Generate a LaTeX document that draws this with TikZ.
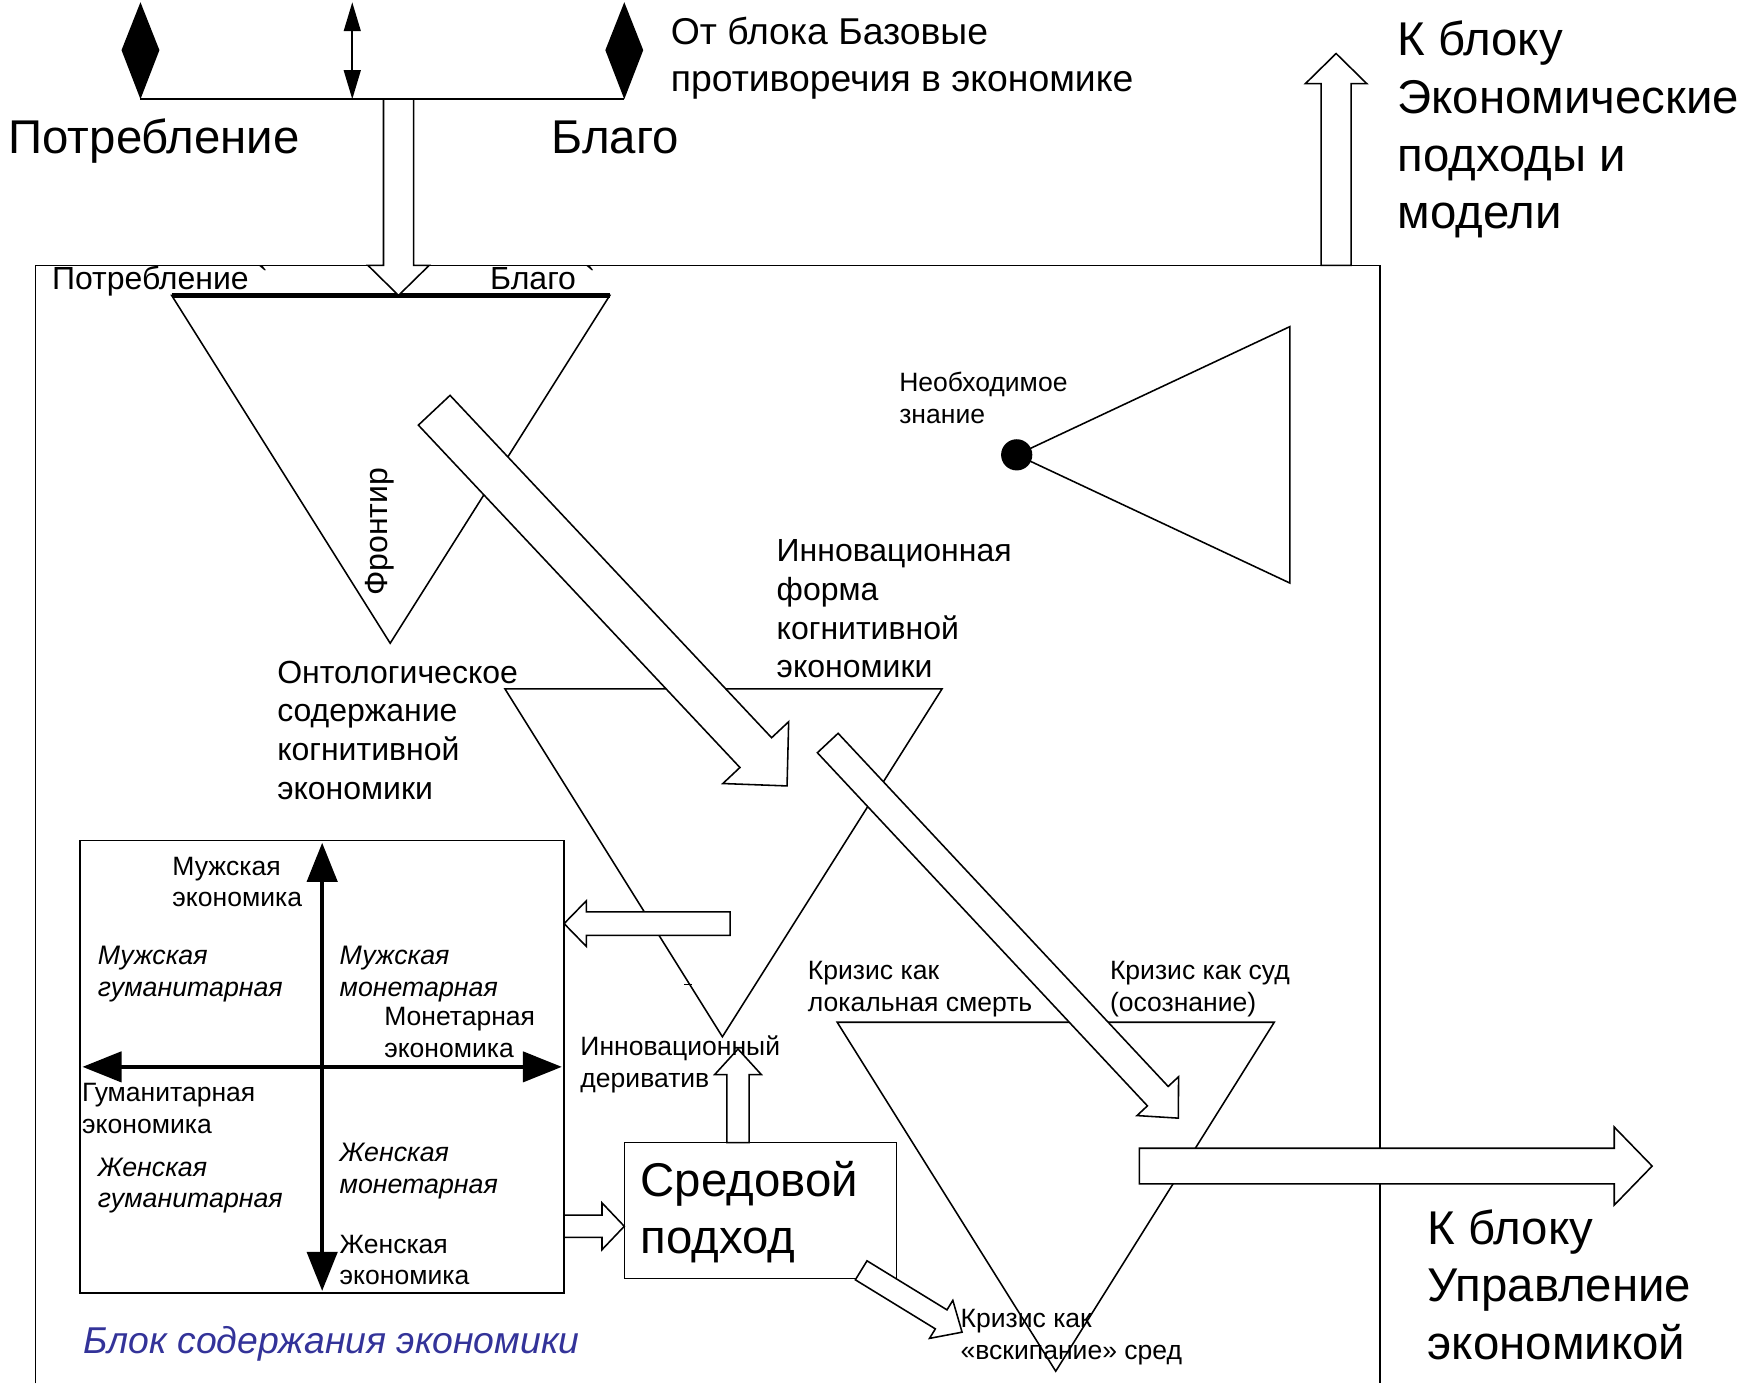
\documentclass[tikz,border=0pt]{standalone}
\usepackage{fontspec}
\setmainfont{Liberation Sans}
\usetikzlibrary{calc,arrows.meta}
\definecolor{blockblue}{RGB}{51,51,153}
\tikzset{every picture/.style={line width=1.4pt}}
\tikzset{
  txtbig/.style={font=\fontsize{42.5}{51.8}\selectfont,align=left,inner sep=0pt,anchor=base west},
  txtsrc/.style={font=\fontsize{33.5}{42}\selectfont,align=left,inner sep=0pt,anchor=base west},
  txtmid/.style={font=\fontsize{28.7}{34.6}\selectfont,align=left,inner sep=0pt,anchor=base west},
  txtsmall/.style={font=\fontsize{23.8}{28.5}\selectfont,align=left,inner sep=0pt,anchor=base west},
  txtital/.style={txtsmall,font=\fontsize{24}{28.5}\selectfont\itshape},
  txtblue/.style={txtsrc,font=\fontsize{33.5}{40}\selectfont\itshape,text=blockblue},
  hollow/.style={draw,fill=white,line join=miter},
  axis/.style={line width=3.6pt,{Triangle[length=35pt,width=27pt]}-{Triangle[length=35pt,width=27pt]}},
}
% block arrow: tail, tip, half shaft, half head, head length
\newcommand{\blockarrow}[5]{%
  \coordinate (ba) at ($(#2)!#5pt!(#1)$);
  \draw[hollow] ($(#1)!#3pt!90:(#2)$) -- ($(ba)!#3pt!90:(#2)$) -- ($(ba)!#4pt!90:(#2)$) -- (#2)
    -- ($(ba)!#4pt!-90:(#2)$) -- ($(ba)!#3pt!-90:(#2)$) -- ($(#1)!#3pt!-90:(#2)$) -- cycle;}

\begin{document}
\begin{tikzpicture}[x=1pt,y=1pt,yscale=-1,xscale=1]
\useasboundingbox (0,0) rectangle (1568,1241);

%Shape: Diamonds and link
\fill (126,2) -- (143,45) -- (126,89) -- (109,45) -- cycle;
\fill (560,2) -- (577,45) -- (560,89) -- (543,45) -- cycle;
\draw (126,89) -- (560,89);
\draw [line width=2pt,{Triangle[length=26pt,width=15pt]}-{Triangle[length=26pt,width=15pt]}] (316,2) -- (316,89);

%Shape: Outer block
\draw (32,1241) -- (32,238) -- (1238,238) -- (1238,1241);

%Shape: Triangles
\draw (154,265) -- (547,265) -- (350,577) -- cycle;
\draw [line width=4pt] (154,265) -- (547,265);
\draw (453,618) -- (845,618) -- (648,930) -- cycle;
\draw (751,917) -- (1143,917) -- (947,1230) -- cycle;
\draw (912,408) -- (1157,293) -- (1157,523) -- cycle;
\fill (912,408) circle (14);
\draw (614,883) -- (621,883);

%Shape: Quadrant
\draw (72,754) rectangle (506,1160);
\draw [axis] (289,756) -- (289,1158);
\draw [axis] (74,957) -- (504,957);

%Shape: Environment box
\draw (560,1025) rectangle (804,1147);

%Block arrows
\coordinate (inTail) at (357.5,89);
\coordinate (inTip) at (357.5,265);
\blockarrow{inTail}{inTip}{13.5}{27.5}{27}
\coordinate (modTail) at (1198.5,238);
\coordinate (modTip) at (1198.5,48);
\blockarrow{modTail}{modTip}{13.5}{27.5}{27}
\coordinate (frontTail) at (389.5,368);
\coordinate (frontTip) at (706,705);
\blockarrow{frontTail}{frontTip}{19.5}{40.5}{41}
\coordinate (formTail) at (742.5,666.5);
\coordinate (formTip) at (1057,1003);
\blockarrow{formTail}{formTip}{12.75}{25.5}{27}
\coordinate (quadTail) at (655,828.5);
\coordinate (quadTip) at (506,828.5);
\blockarrow{quadTail}{quadTip}{10.5}{20.5}{20}
\coordinate (envInTail) at (506,1100);
\coordinate (envInTip) at (560,1100);
\blockarrow{envInTail}{envInTip}{10}{21}{20}
\coordinate (derivTail) at (662,1025);
\coordinate (derivTip) at (662,941);
\blockarrow{derivTail}{derivTip}{10}{21}{23}
\coordinate (boilTail) at (772.5,1139.5);
\coordinate (boilTip) at (863,1195);
\blockarrow{boilTail}{boilTip}{10}{20}{22}
\coordinate (manTail) at (1022,1046);
\coordinate (manTip) at (1482,1046);
\blockarrow{manTail}{manTip}{16}{35}{34}

% Text Node (base = last line)
\draw (7,138) node [txtbig] (consBig) {Потребление};
\draw (494,138) node [txtbig] (goodBig) {Благо};
\draw (601,82) node [txtsrc] (srcText) {От блока Базовые\\противоречия в экономике};
\draw (1253,205.4) node [txtbig] (toModels) {К блоку\\Экономические\\подходы и\\модели};
\draw (46,260) node [txtmid] (consSmall) {Потребление \textasciigrave};
\draw (439,260) node [txtmid] (goodSmall) {Благо \textasciigrave};
\draw (341,477) node [font=\fontsize{28.7}{34.6}\selectfont,inner sep=0pt,rotate=90] (frontier) {Фронтир};
\draw (806,379.5) node [txtsmall] (needKnow) {Необходимое\\знание};
\draw (696,607.8) node [txtmid] (innovForm) {Инновационная\\форма\\когнитивной\\экономики};
\draw (248,716.8) node [txtmid] (ontoText) {Онтологическое\\содержание\\когнитивной\\экономики};
% Text Node: quadrant
\draw (154,813.5) node [txtsmall] (maleEc) {Мужская\\экономика};
\draw (87,893.5) node [txtital] (maleHum) {Мужская\\гуманитарная};
\draw (304,893.5) node [txtital] (maleMon) {Мужская\\монетарная};
\draw (344,948.5) node [txtsmall] (monEc) {Монетарная\\экономика};
\draw (73,1016.5) node [txtsmall] (humEc) {Гуманитарная\\экономика};
\draw (87,1083.5) node [txtital] (femHum) {Женская\\гуманитарная};
\draw (304,1070.5) node [txtital] (femMon) {Женская\\монетарная};
\draw (304,1152.5) node [txtsmall] (femEc) {Женская\\экономика};
% Text Node: crises
\draw (724,907.5) node [txtsmall] (crisisDeath) {Кризис как\\локальная смерть};
\draw (995,907.5) node [txtsmall] (crisisCourt) {Кризис как суд\\(осознание)};
\draw (861,1219.5) node [txtsmall] (crisisBoil) {Кризис как\\«вскипание» сред};
\draw (520,975.5) node [txtsmall] (innovDeriv) {Инновационный\\дериватив};
\draw (574,1124.8) node [txtbig] (envText) {Средовой\\подход};
\draw (1280,1219.6) node [txtbig] (toManage) {К блоку\\Управление\\экономикой};
\draw (74,1214) node [txtblue] (blockName) {Блок содержания экономики};

\end{tikzpicture}
\end{document}
